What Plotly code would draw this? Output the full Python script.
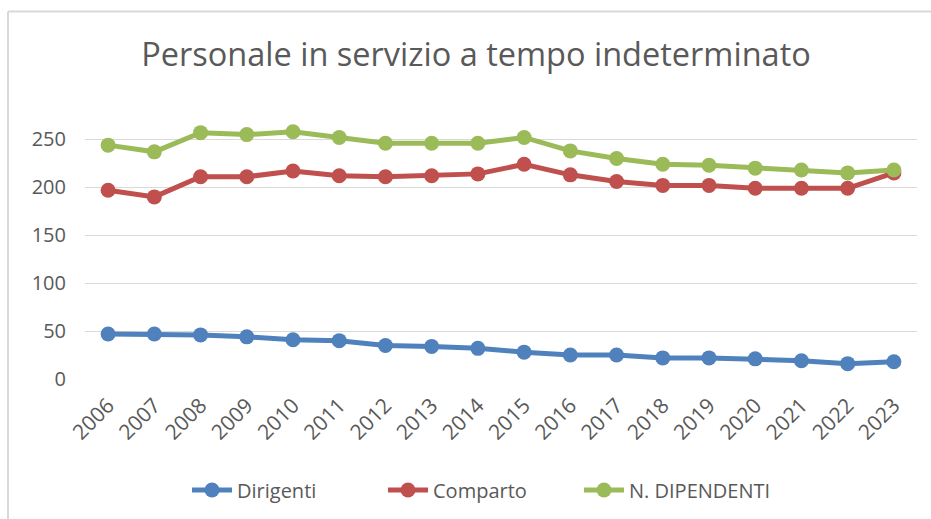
import plotly.graph_objects as go

years = [str(y) for y in range(2006, 2024)]
dirigenti = [47, 47, 46, 44, 41, 40, 35, 34, 32, 28, 25, 25, 22, 22, 21, 19, 16, 18]
comparto = [197, 190, 211, 211, 217, 212, 211, 212, 214, 224, 213, 206, 202, 202, 199, 199, 199, 215]
dipendenti = [244, 237, 257, 255, 258, 252, 246, 246, 246, 252, 238, 230, 224, 223, 220, 218, 215, 218]
yticks = [0, 50, 100, 150, 200, 250]

series = [
    ("Dirigenti", dirigenti, "#4F81BD"),
    ("Comparto", comparto, "#C0504D"),
    ("N. DIPENDENTI", dipendenti, "#9BBB59"),
]

font_family = "Open Sans, sans-serif"

fig = go.Figure()
for name, vals, col in series:
    fig.add_trace(go.Scatter(
        x=years, y=vals, name=name, mode="lines+markers",
        line=dict(color=col, width=5),
        marker=dict(color=col, size=15),
        cliponaxis=False,
    ))

fig.update_layout(
    width=931, height=519,
    margin=dict(l=85, r=14, t=125, b=140, autoexpand=False),
    paper_bgcolor="white", plot_bgcolor="white",
    font=dict(family=font_family, color="#595959", size=19),
    title=dict(text="Personale in servizio a tempo indeterminato",
               x=476 / 931, xanchor="center", xref="container",
               y=1 - 55 / 519, yanchor="middle", yref="container",
               font=dict(size=32.5, color="#595959", family=font_family)),
    xaxis=dict(type="category", range=[-0.5, 17.5], showgrid=False,
               showline=False, ticks="", tickangle=-45, automargin=False,
               ticklabelstandoff=9,
               tickfont=dict(size=21, color="#595959")),
    yaxis=dict(range=[0, 265], tickvals=yticks, showgrid=True,
               gridcolor="#D9D9D9", gridwidth=1, zeroline=False,
               showline=False, ticks="", ticklabelstandoff=18, automargin=False,
               tickfont=dict(size=20, color="#595959")),
    legend=dict(orientation="h", x=481 / 931, xanchor="center", xref="container",
                y=1 - 490 / 519, yanchor="middle", yref="container",
                font=dict(size=20, color="#595959"), itemwidth=40,
                entrywidth=141, entrywidthmode="pixels",
                traceorder="normal"),
    showlegend=True,
)

# chart frame (top and left edges visible in reference)
fig.add_shape(type="line", xref="paper", yref="paper",
              x0=(8 - 85) / 832, x1=(940 - 85) / 832,
              y0=(379 - 11) / 254.4, y1=(379 - 11) / 254.4,
              line=dict(color="#D9D9D9", width=2), layer="below")
fig.add_shape(type="line", xref="paper", yref="paper",
              x0=(8 - 85) / 832, x1=(8 - 85) / 832,
              y0=(379 - 11) / 254.4, y1=(379 - 530) / 254.4,
              line=dict(color="#D9D9D9", width=2), layer="below")

fig.write_html(
    "out.html",
    config={"displayModeBar": False},
    post_script="document.body.style.margin='0';document.body.style.overflow='hidden';",
)
